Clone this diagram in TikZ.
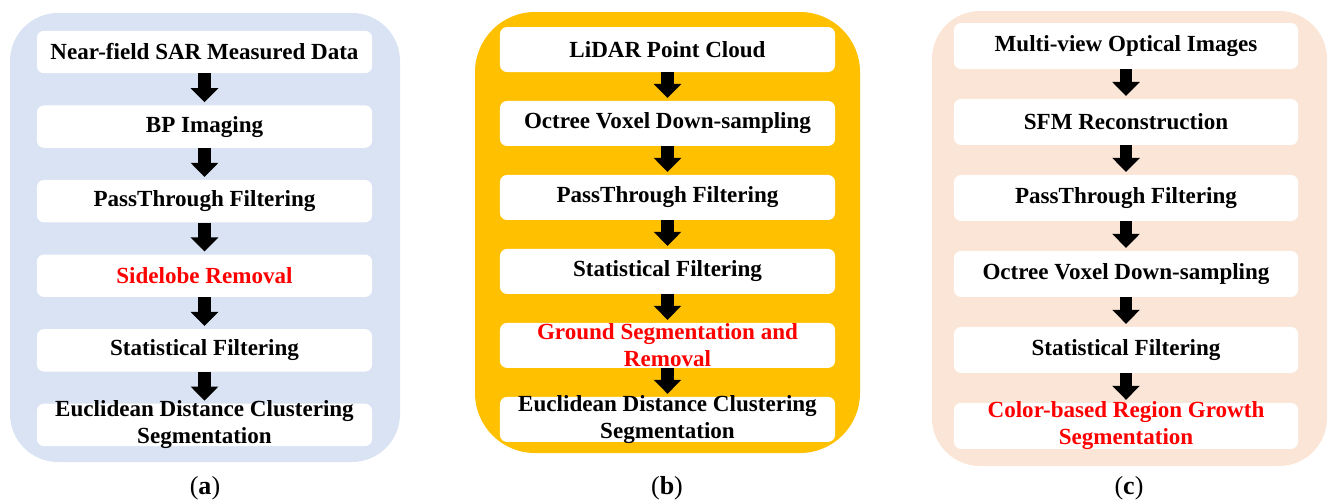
\documentclass[tikz,border=0pt]{standalone}
\usepackage{fontspec}
\setmainfont{Liberation Serif}
\usepackage{xcolor}
\usepackage{tikz}
\usetikzlibrary{shapes,arrows.meta,positioning,calc}

\definecolor{bluebg}{RGB}{218,227,243}
\definecolor{goldbg}{RGB}{255,192,0}
\definecolor{peachbg}{RGB}{251,229,214}

\tikzset{
  stepbox/.style={fill=white, rounded corners=5pt, inner sep=0pt, align=center,
    font=\fontsize{16.4}{19.2}\selectfont\bfseries},
  boxa/.style={stepbox, minimum width=8.375cm, minimum height=1.06cm},
  boxb/.style={stepbox, minimum width=8.375cm, minimum height=1.125cm},
  boxc/.style={stepbox, minimum width=8.6cm, minimum height=1.15cm},
  twoline/.style={inner sep=0pt, align=center, font=\fontsize{16.4}{19.2}\selectfont\bfseries},
  flow/.style={line width=9.2pt, -{Triangle[width=19.2pt,length=10pt]}, shorten >=2pt},
  caption/.style={font=\fontsize{18.5}{22}\selectfont},
}

\begin{document}
\begin{tikzpicture}[x=0.025cm, y=-0.025cm]
  \useasboundingbox (0,0) rectangle (1328,502);
  % 背景
  \fill[bluebg, rounded corners=1.2cm] (10,13) rectangle (400,462);
  \fill[goldbg, rounded corners=1.5cm] (475,12) rectangle (860,453);
  \fill[peachbg, rounded corners=1.2cm] (932,11) rectangle (1327,466);

  % (a)
  \node[boxa] (a1) at (204.5,52) {Near-field SAR Measured Data};
  \node[boxa, below=0.79cm of a1] (a2) {BP Imaging};
  \node[boxa, below=0.79cm of a2] (a3) {PassThrough Filtering};
  \node[boxa, below=0.79cm of a3, text=red] (a4) {Sidelobe Removal};
  \node[boxa, below=0.79cm of a4] (a5) {Statistical Filtering};
  \node[boxa, below=0.79cm of a5,
    label={[twoline]center:Euclidean Distance Clustering\\Segmentation}] (a6) {};

  % (b)
  \node[boxb] (b1) at (667.5,49.5) {LiDAR Point Cloud};
  \node[boxb, below=0.71cm of b1] (b2) {Octree Voxel Down-sampling};
  \node[boxb, below=0.71cm of b2] (b3) {PassThrough Filtering};
  \node[boxb, below=0.71cm of b3] (b4) {Statistical Filtering};
  \node[boxb, below=0.71cm of b4,
    label={[twoline, text=red]center:Ground Segmentation and\\Removal}] (b5) {};
  \node[boxb, below=0.71cm of b5,
    label={[twoline]center:Euclidean Distance Clustering\\Segmentation}] (b6) {};

  % (c)
  \node[boxc] (c1) at (1126,46) {Multi-view Optical Images};
  \node[boxc, below=0.735cm of c1] (c2) {SFM Reconstruction};
  \node[boxc, below=0.735cm of c2] (c3) {PassThrough Filtering};
  \node[boxc, below=0.735cm of c3] (c4) {Octree Voxel Down-sampling};
  \node[boxc, below=0.735cm of c4] (c5) {Statistical Filtering};
  \node[boxc, below=0.735cm of c5,
    label={[twoline, text=red]center:Color-based Region Growth\\Segmentation}] (c6) {};

  % 箭头
  \foreach \p in {a,b,c} {
    \foreach \i/\j in {1/2,2/3,3/4,4/5,5/6} {
      \draw[flow] (\p\i.south) -- (\p\j.north);
    }
  }

  % 标注
  \node[caption] (capa) at (205,488) {(\textbf{a})};
  \node[caption] (capb) at (667,488) {(\textbf{b})};
  \node[caption] (capc) at (1129,488) {(\textbf{c})};
\end{tikzpicture}
\end{document}
